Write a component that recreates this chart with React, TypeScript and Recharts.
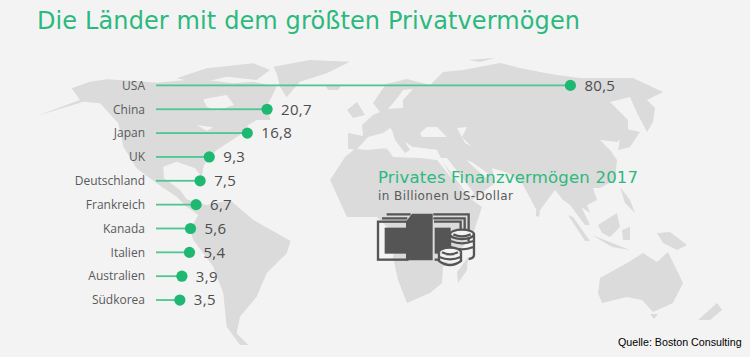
import React from "react";
import { BarChart, Bar, XAxis, YAxis, LabelList } from "recharts";

const countries = ["USA", "China", "Japan", "UK", "Deutschland", "Frankreich", "Kanada", "Italien", "Australien", "Südkorea"];
const values = [80.5, 20.7, 16.8, 9.3, 7.5, 6.7, 5.6, 5.4, 3.9, 3.5];
const lineStart = -1.2;
const rows = countries.map((name, i) => ({ name, value: values[i], range: [lineStart, values[i]] }));

const LAND = "#dbdbdb";
const BG = "#f3f3f3";
const GREEN = "#1fb871";
const GREY = "#5a5a5a";
const FONT = "'DejaVu Sans', sans-serif";
const LABEL_FONT = "'Open Sans', sans-serif";

const americas = [
  "M215,145 L270,125 L320,118 L400,122 L470,128 L560,120 L640,122 L700,130 L760,125 L830,140 L800,200 L812,240 L770,240 L745,255 L720,285 L650,330 L612,375 L605,410 L585,385 L530,365 L490,380 L492,415 L540,450 L560,478 L600,490 L620,495 L690,480 L760,540 L872,603 L860,640 L800,700 L770,770 L720,830 L710,880 L745,915 L720,915 L680,860 L670,760 L640,680 L580,600 L570,570 L595,525 L560,500 L530,470 L470,430 L410,385 L370,320 L355,250 L300,190 L250,185 L110,228 L240,180 Z",
  "M820,80 L930,60 L1050,65 L980,100 L900,125 L860,172 L840,140 L830,100 Z",
  "M530,115 L620,85 L760,70 L810,90 L770,120 L680,110 L600,130 Z",
  "M975,135 L1025,135 L1015,150 L985,150 Z",
];
const americasWater = ["M610,178 L680,165 L702,195 L650,212 L620,200 Z", "M590,255 L640,262 L620,272 Z"];

const eurasiaAfrica = [
  "M348,133 L363,136 L362,125 L373,115 L380,112 L373,103 L386,84 L407,79 L430,85 L443,72 L463,70 L500,63 L520,68 L540,72 L557,75 L580,78 L633,78 L663,92 L647,100 L655,108 L653,122 L647,132 L637,113 L630,97 L610,102 L628,120 L628,133 L617,142 L600,140 L610,150 L617,160 L615,180 L600,188 L593,188 L597,200 L587,205 L590,213 L580,206 L578,200 L590,225 L585,225 L570,205 L563,200 L555,190 L538,213 L522,183 L508,173 L492,168 L495,183 L472,200 L455,183 L442,160 L437,150 L413,147 L367,150 L348,149 Z",
  "M330,180 L345,157 L357,147 L395,150 L437,160 L465,195 L482,207 L472,237 L457,253 L443,267 L442,283 L430,293 L407,303 L398,280 L393,257 L397,237 L377,217 L347,217 Z",
];
const oldWorldWater = [
  "M357,149 L368,137 L383,133 L390,128 L402,140 L413,147 L437,150 L437,160 L420,158 L393,157 L387,148 L367,150 Z",
  "M420,133 L427,127 L437,127 L447,137 L433,137 L422,137 Z",
  "M457,128 L467,127 L462,137 L472,147 L465,143 Z",
  "M388,109 L398,97 L403,90 L413,89 L403,100 L403,108 Z",
  "M440,158 L447,158 L474,193 L470,198 Z",
  "M466,160 L472,162 L490,175 L486,178 Z",
];
const islands = [
  "M392,130 L400,134 L410,150 L405,153 L395,140 Z",
  "M347,110 L357,102 L365,115 L353,118 Z",
  "M468,60 L495,58 L480,62 Z",
  "M622,128 L640,132 L630,147 L618,150 Z",
  "M468,257 L467,270 L458,283 L457,272 Z",
  "M568,215 L573,217 L590,241 L585,241 Z",
  "M592,235 L630,250 L612,247 Z",
  "M598,225 L617,213 L620,227 L610,237 L602,233 Z",
  "M620,187 L630,200 L635,213 L625,203 Z",
  "M622,230 L630,227 L630,240 L623,240 Z",
  "M657,233 L670,232 L687,245 L677,250 L663,243 Z",
  "M600,278 L627,263 L643,253 L657,262 L668,252 L683,283 L673,303 L653,312 L642,300 L627,297 L602,303 L598,293 Z",
  "M650,314 L658,314 L654,319 Z",
  "M698,320 L717,303 L722,310 L710,320 Z",
  "M536,210 L540,212 L539,217 L536,216 Z",
];

const PrivateBar = (p: any) => {
  const cy = p.y + p.height / 2;
  return (
    <g>
      <rect x={p.x} y={cy - 0.9} width={p.width} height={1.8} fill="#4cc795" />
      <circle cx={p.x + p.width} cy={cy} r={5.6} fill={GREEN} />
    </g>
  );
};

const Backdrop = () => (
  <svg width={750} height={357} style={{ position: "absolute", left: 0, top: 0 }}>
    <defs>
      <filter id="soft"><feGaussianBlur stdDeviation="0.5" /></filter>
    </defs>
    <rect width={750} height={357} fill={BG} />
    <g filter="url(#soft)">
      <g transform="translate(0,40) scale(0.3333)">
        {americas.map((d, i) => <path key={i} d={d} fill={LAND} />)}
        {americasWater.map((d, i) => <path key={i} d={d} fill={BG} />)}
      </g>
      {eurasiaAfrica.map((d, i) => <path key={i} d={d} fill={LAND} />)}
      {oldWorldWater.map((d, i) => <path key={i} d={d} fill={BG} />)}
      {islands.map((d, i) => <path key={i} d={d} fill={LAND} />)}
    </g>
    <g transform="translate(370,205) scale(0.3333)" stroke="#555" fill="none" strokeWidth={7}>
      <rect x={24} y={50} width={88} height={114} />
      <rect x={44} y={68} width={66} height={78} fill="#555" stroke="none" />
      <path d="M36,40 L112,40 M50,28 L122,28 M190,28 L296,28 L296,110 M190,40 L284,40 L284,80 M192,50 L272,50 L272,80" />
      <path d="M108,50 L126,26 L188,26 L188,166 L108,166 Z" fill="#555" stroke="none" />
      <rect x={194} y={68} width={48} height={78} fill="#555" stroke="none" />
      <path d="M194,164 L212,164" />
      <ellipse cx={276} cy={88} rx={36} ry={14} fill={BG} />
      <path d="M240,88 L240,140 M312,88 L312,150 Q312,160 296,162 M242,108 Q276,122 310,108 M242,126 Q276,140 310,126 M250,88 Q276,100 302,88" />
      <ellipse cx={240} cy={142} rx={33} ry={14} fill={BG} />
      <rect x={207} y={142} width={66} height={28} fill={BG} stroke="none" />
      <path d="M207,142 L207,168 Q240,192 273,168 L273,142 M208,156 Q240,170 272,156 M216,142 Q240,154 264,142" />
    </g>
  </svg>
);

export default function App() {
  return (
    <div style={{ position: "fixed", left: 0, top: 0, width: 750, height: 357, overflow: "hidden" }}>
      <Backdrop />
      <div style={{ position: "absolute", left: 0, top: 0 }}>
        <BarChart
          width={750}
          height={357}
          layout="vertical"
          data={rows}
          margin={{ top: 73.5, right: 30, bottom: 45, left: 0 }}
        >
          <XAxis type="number" hide domain={[lineStart, 110]} />
          <YAxis
            type="category"
            dataKey="name"
            width={156}
            axisLine={false}
            tickLine={false}
            tickMargin={5}
            interval={0}
            tick={{ fontFamily: LABEL_FONT, fontSize: 12, fill: GREY }}
          />
          <Bar dataKey="range" isAnimationActive={false} shape={PrivateBar} fill={GREEN}>
            <LabelList
              dataKey="value"
              position="right"
              offset={14}
              formatter={(v: any) => String(v).replace(".", ",")}
              style={{ fontFamily: LABEL_FONT, fontSize: 15, fill: "#4d4d4d", letterSpacing: 0.3 }}
            />
          </Bar>
        </BarChart>
      </div>
      <svg width={750} height={357} style={{ position: "absolute", left: 0, top: 0, pointerEvents: "none" }}>
        <text x={37} y={29} fontFamily={FONT} fontSize={24} fill="#2cb97e" textLength={543}>Die Länder mit dem größten Privatvermögen</text>
        <text x={378} y={183} fontFamily={FONT} fontSize={16.5} fill="#2cb97e" textLength={260}>Privates Finanzvermögen 2017</text>
        <text x={378} y={200} fontFamily={FONT} fontSize={12} fill={GREY} textLength={135}>in Billionen US-Dollar</text>
        <text x={618} y={346} fontFamily="'Liberation Sans', Arial, sans-serif" fontSize={10.7} fill="#000">Quelle: Boston Consulting</text>
      </svg>
    </div>
  );
}
